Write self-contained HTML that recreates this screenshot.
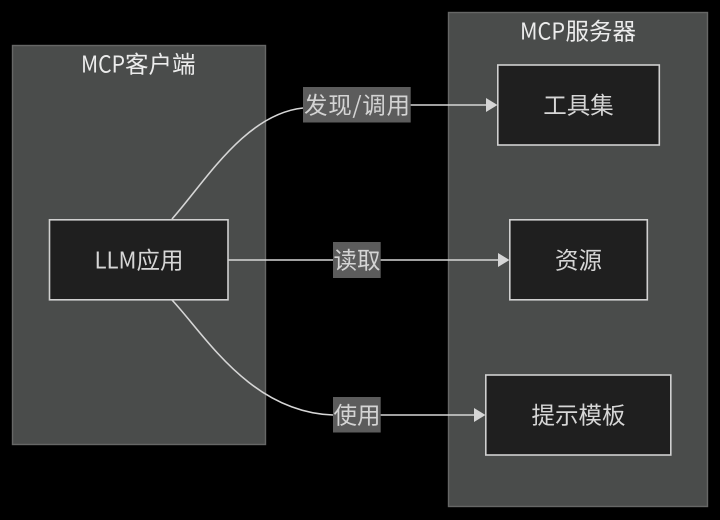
<!DOCTYPE html>
<html>
<head>
<meta charset="utf-8">
<style>
html,body{margin:0;padding:0;background:#000;width:720px;height:520px;overflow:hidden}
svg{display:block;filter:blur(.35px)}
text{font-family:"Noto Sans CJK SC","Liberation Sans",sans-serif;dominant-baseline:central}
.t{fill:#d6d6d6;font-size:23.5px}
.c{fill:#ececec;font-size:23.500px}
.l{fill:#d4d4d4;font-size:23.500px}
.m{text-anchor:middle}
.e{fill:none;stroke:#d6d6d6;stroke-width:1.6}
.n{fill:#1f1f1f;stroke:#d0d0d0;stroke-width:1.6}
.g{fill:#4a4c4b;stroke:#666766;stroke-width:1.4}
</style>
</head>
<body>
<svg width="720" height="520" viewBox="0 0 720 520" xmlns="http://www.w3.org/2000/svg">
<rect x="0" y="0" width="720" height="520" fill="#000"/>
<rect class="g" x="12.500" y="45.500" width="253" height="399"/>
<rect class="g" x="448.500" y="12.500" width="259" height="494"/>
<text class="c" x="81" y="62.500" textLength="44" lengthAdjust="spacingAndGlyphs">MCP</text>
<text class="c" x="125" y="62.500">客户端</text>
<text class="c" x="520" y="29.500" textLength="45" lengthAdjust="spacingAndGlyphs">MCP</text>
<text class="c" x="565.500" y="29.500">服务器</text>

<path class="e" d="M172 219C205 182 245 114 303 108"/>
<path class="e" d="M172 300C205 335 250 412 333 415"/>
<path class="e" d="M410 105H487"/>
<path class="e" d="M228 260H499"/>
<path class="e" d="M380 415H475"/>
<polygon points="486,98 497.500,105 486,112" fill="#d6d6d6"/>
<polygon points="498,253 509.500,260 498,267" fill="#d6d6d6"/>
<polygon points="474,408 485.500,415 474,422" fill="#d6d6d6"/>

<rect class="n" x="49.500" y="219.800" width="178.500" height="80"/>
<rect class="n" x="497.800" y="65" width="161.500" height="80"/>
<rect class="n" x="509.800" y="219.800" width="137.500" height="80"/>
<rect class="n" x="485.800" y="375" width="185" height="80"/>

<text class="t" x="94.500" y="258.500" textLength="42" lengthAdjust="spacingAndGlyphs">LLM</text>
<text class="t" x="136.500" y="258.500">应用</text>
<text class="t m" x="578.500" y="103.500">工具集</text>
<text class="t m" x="578.500" y="258.500">资源</text>
<text class="t m" x="578.500" y="413.500">提示模板</text>

<rect x="303" y="87" width="107.700" height="35.500" fill="#5c5c5c"/>
<rect x="333" y="242" width="47.700" height="36" fill="#5c5c5c"/>
<rect x="333" y="397" width="47.700" height="35.500" fill="#5c5c5c"/>
<text class="l" x="304" y="103.500" textLength="106" lengthAdjust="spacing">发现/调用</text>
<text class="l m" x="357" y="258.500">读取</text>
<text class="l m" x="357" y="413.500">使用</text>
</svg>
</body>
</html>
